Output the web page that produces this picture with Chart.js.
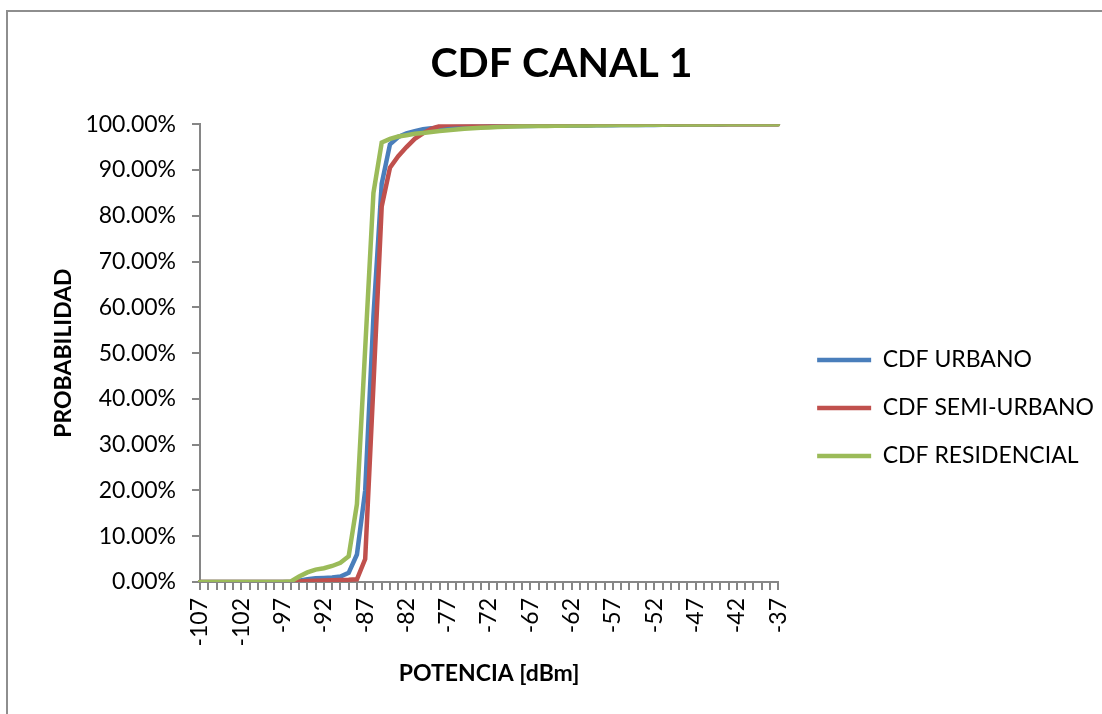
<!DOCTYPE html>
<html>
<head>
<meta charset="utf-8">
<script src="https://cdn.jsdelivr.net/npm/chart.js@4/dist/chart.umd.min.js"></script>
<style>
  body { margin: 0; overflow: hidden; background: #fff; }
  #frame { position: absolute; left: 6px; top: 10px; width: 1200px; height: 800px;
           border-left: 2px solid #8e8e8e; border-top: 2px solid #8e8e8e; pointer-events: none; }
  #wrap { position: absolute; left: 0; top: 0; width: 1102px; height: 714px; }
</style>
</head>
<body>
<div id="wrap"><canvas id="cdfCanal1" width="1102" height="714"></canvas></div>
<div id="frame"></div>
<script>
// potencia en dBm, -107 .. -37
const potencia = [];
for (let p = -107; p <= -37; p++) potencia.push(String(p));

// probabilidad acumulada (%)
const cdfUrbano = [
    0, 0, 0, 0, 0, 0, 0, 0, 0, 0, 0, 0,
    0.3, 0.6, 0.8, 0.9, 1.0, 1.2, 2.0, 6.0, 20, 58, 87, 95.6,
    97.2, 98.0, 98.5, 98.9, 99.1, 99.25, 99.35, 99.4, 99.45, 99.5, 99.5, 99.55,
    99.55, 99.6, 99.6, 99.6, 99.62, 99.65, 99.65, 99.67, 99.7, 99.7, 99.7, 99.72,
    99.75, 99.75, 99.78, 99.8, 99.8, 99.82, 99.85, 99.85, 99.87, 99.9, 99.9, 99.92,
    99.93, 99.95, 99.95, 99.96, 99.97, 99.98, 99.98, 99.99, 99.99, 100, 100
];
const cdfSemiUrbano = [
    0, 0, 0, 0, 0, 0, 0, 0, 0, 0, 0, 0,
    0.1, 0.2, 0.3, 0.35, 0.4, 0.45, 0.5, 0.6, 5, 43, 82, 90.5,
    93, 95, 96.8, 98, 99, 99.6, 99.9, 100, 100, 100, 100, 100,
    100, 100, 100, 100, 100, 100, 100, 100, 100, 100, 100, 100,
    100, 100, 100, 100, 100, 100, 100, 100, 100, 100, 100, 100,
    100, 100, 100, 100, 100, 100, 100, 100, 100, 100, 100
];
const cdfResidencial = [
    0, 0, 0, 0, 0, 0, 0, 0, 0, 0, 0, 0.1,
    1.2, 2.1, 2.7, 3.0, 3.5, 4.2, 5.6, 17, 51, 85, 96, 96.8,
    97.3, 97.6, 97.9, 98.1, 98.3, 98.5, 98.7, 98.85, 99.0, 99.1, 99.2, 99.3,
    99.4, 99.45, 99.5, 99.55, 99.58, 99.6, 99.62, 99.65, 99.68, 99.7, 99.72, 99.74,
    99.76, 99.78, 99.8, 99.82, 99.84, 99.85, 99.87, 99.88, 99.9, 99.91, 99.92, 99.93,
    99.94, 99.95, 99.96, 99.97, 99.97, 99.98, 99.98, 99.99, 99.99, 100, 100
];

const gris = '#868686';
Chart.defaults.font.family = 'Lato';
Chart.defaults.color = '#000';

// legend sits a bit further right and lower than chart.js puts it
const moverLeyenda = {
    id: 'moverLeyenda',
    afterLayout(chart) {
        const lg = chart.legend;
        lg.left += 14;
        lg.right += 14;
        lg.top += 112;
    }
};

function serie(label, data, color, order) {
    return {
        label: label,
        data: data,
        borderColor: color,
        backgroundColor: color,
        borderWidth: 4.5,
        borderCapStyle: 'round',
        pointRadius: 0,
        tension: 0,
        order: order
    };
}

const ctx = document.getElementById('cdfCanal1').getContext('2d');
const cdfCanal1 = new Chart(ctx, {
    type: 'line',
    data: {
        labels: potencia,
        datasets: [
            serie('CDF URBANO', cdfUrbano, '#4a7ebb', 2),
            serie('CDF SEMI-URBANO', cdfSemiUrbano, '#c0504d', 1),
            serie('CDF RESIDENCIAL', cdfResidencial, '#9bbb59', 0)
        ]
    },
    plugins: [moverLeyenda],
    options: {
        responsive: false,
        animation: false,
        layout: { padding: { left: 33, top: 10, right: 12, bottom: 20 } },
        plugins: {
            title: {
                display: true,
                text: 'CDF CANAL 1',
                font: { size: 41, weight: 'bold' },
                padding: { top: 29, bottom: 36 }
            },
            legend: {
                position: 'right',
                maxWidth: 400,
                labels: {
                    usePointStyle: true,
                    pointStyle: 'line',
                    pointStyleWidth: 54,
                    padding: 25,
                    font: { size: 23 },
                    sort: (a, b) => a.datasetIndex - b.datasetIndex
                }
            },
            tooltip: { enabled: false }
        },
        scales: {
            x: {
                offset: false,
                afterFit: (s) => { s.height = 112; },
                border: { color: gris, width: 2 },
                grid: { drawOnChartArea: false, color: gris, lineWidth: 2, tickLength: 8 },
                ticks: {
                    autoSkip: false,
                    minRotation: 90,
                    maxRotation: 90,
                    padding: 8,
                    font: { size: 23 },
                    callback: function (v, i) { return i % 5 === 0 ? this.getLabelForValue(v) : ''; }
                },
                title: {
                    display: true,
                    text: 'POTENCIA [dBm]',
                    font: { size: 23, weight: 'bold' },
                    padding: { top: 0, bottom: 7 }
                }
            },
            y: {
                min: 0,
                max: 100,
                afterFit: (s) => { s.width = 167; },
                border: { color: gris, width: 2 },
                grid: { drawOnChartArea: false, color: gris, lineWidth: 2, tickLength: 8 },
                ticks: {
                    stepSize: 10,
                    padding: 16,
                    font: { size: 23 },
                    callback: (v) => v.toFixed(2) + '%'
                },
                title: {
                    display: true,
                    text: 'PROBABILIDAD',
                    font: { size: 23, weight: 'bold' },
                    padding: { top: 17, bottom: 0 }
                }
            }
        }
    }
});
</script>
</body>
</html>
